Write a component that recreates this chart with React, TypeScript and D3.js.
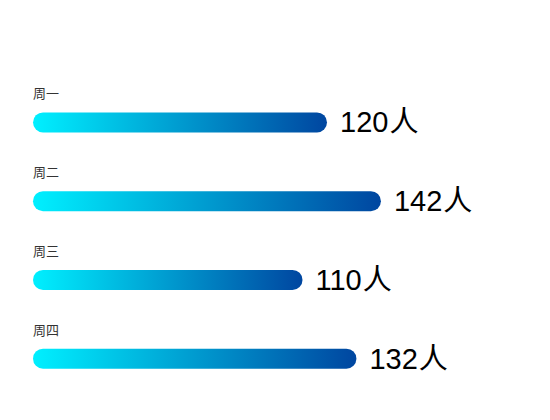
import React from "react";
import * as d3 from "d3";

const categories = ["周一", "周二", "周三", "周四"];
const values = [120, 142, 110, 132];
const unit = "人";

const W = 550;
const H = 420;

export default function App() {
  const x = d3.scaleLinear().domain([0, 200]).range([33, 523]);
  const y = d3.scaleBand().domain(categories).range([82, 397]).paddingInner(0).paddingOuter(0);
  const barH = 20;
  return (
    <svg width={W} height={H} style={{ position: "absolute", left: 0, top: 0 }}>
      <defs>
        <linearGradient id="barGrad" x1="0" y1="0" x2="1" y2="0">
          <stop offset="0%" stopColor="#00F0FF" />
          <stop offset="100%" stopColor="#0046A0" />
        </linearGradient>
      </defs>
      {categories.map((c, i) => {
        const cy = (y(c) as number) + y.bandwidth() / 2 + 1;
        const x0 = x(0);
        const x1 = x(values[i]);
        return (
          <g key={c}>
            <text
              x={x0}
              y={cy - 24}
              fontSize={13}
              fill="#333"
              fontFamily="'Noto Sans CJK SC', sans-serif"
            >
              {c}
            </text>
            <rect
              x={x0}
              y={cy - barH / 2}
              width={x1 - x0}
              height={barH}
              rx={barH / 2}
              ry={barH / 2}
              fill="url(#barGrad)"
            />
            <text
              x={x1 + 13}
              y={cy + 10}
              fontSize={29}
              fill="#000"
              fontFamily="'Liberation Sans', Arial, 'Noto Sans CJK SC', sans-serif"
            >
              {values[i]}
              <tspan dx={1}>{unit}</tspan>
            </text>
          </g>
        );
      })}
    </svg>
  );
}
